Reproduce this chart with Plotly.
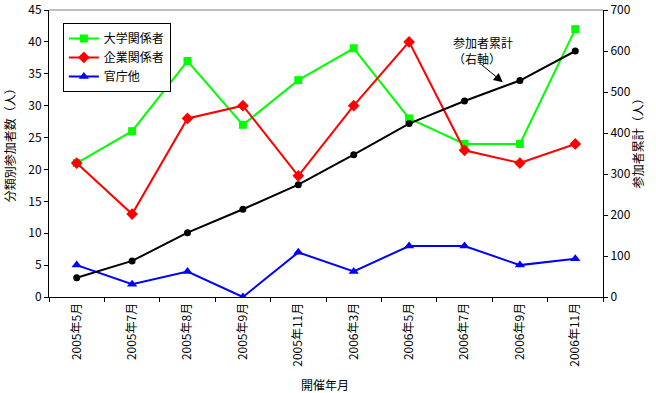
import plotly.graph_objects as go

categories = ["2005年5月", "2005年7月", "2005年8月", "2005年9月", "2005年11月",
              "2006年3月", "2006年5月", "2006年7月", "2006年9月", "2006年11月"]
univ = [21, 26, 37, 27, 34, 39, 28, 24, 24, 42]
corp = [21, 13, 28, 30, 19, 30, 40, 23, 21, 24]
gov = [5, 2, 4, 0, 7, 4, 8, 8, 5, 6]
cumulative = [47, 88, 157, 214, 274, 347, 423, 478, 528, 600]

FONT = "Noto Sans CJK JP"

fig = go.Figure()
fig.add_trace(go.Scatter(x=categories, y=univ, name="大学関係者", mode="lines+markers",
                         line=dict(color="#00ff00", width=2),
                         marker=dict(symbol="square", size=8, color="#00ff00")))
fig.add_trace(go.Scatter(x=categories, y=corp, name="企業関係者", mode="lines+markers",
                         line=dict(color="#ff0000", width=2),
                         marker=dict(symbol="diamond", size=9, color="#ff0000")))
fig.add_trace(go.Scatter(x=categories, y=gov, name="官庁他", mode="lines+markers",
                         line=dict(color="#0000ff", width=2),
                         marker=dict(symbol="triangle-up", size=9, color="#0000ff")))
fig.add_trace(go.Scatter(x=categories, y=cumulative, name="参加者累計", mode="lines+markers",
                         yaxis="y2", showlegend=False,
                         line=dict(color="#000000", width=2),
                         marker=dict(symbol="circle", size=7, color="#000000")))

fig.update_layout(
    width=656, height=393,
    margin=dict(l=49, r=53, t=10, b=96, autoexpand=False),
    paper_bgcolor="white", plot_bgcolor="white",
    font=dict(family=FONT, size=12, color="black"),
    showlegend=True,
    legend=dict(x=0.025, y=0.955, xanchor="left", yanchor="top",
                bordercolor="black", borderwidth=1, bgcolor="white",
                font=dict(size=12), tracegroupgap=0, itemwidth=30),
    xaxis=dict(type="category", range=[-0.5, 9.5], tickangle=-90, automargin=False,
               showline=True, linecolor="black", linewidth=1,
               ticks="outside", tickson="boundaries", ticklen=4, tickcolor="black",
               showgrid=False, tickfont=dict(size=12)),
    yaxis=dict(range=[0, 45], dtick=5, showline=True, linecolor="black", linewidth=1,
               ticks="outside", ticklen=4, tickcolor="black", showgrid=False,
               zeroline=False, tickfont=dict(size=12), automargin=False,
               ticklabeloverflow="allow"),
    yaxis2=dict(range=[0, 700], dtick=100, overlaying="y", side="right",
                showline=True, linecolor="black", linewidth=1, automargin=False,
                ticks="outside", ticklen=4, tickcolor="black", showgrid=False,
                zeroline=False, tickfont=dict(size=12), ticklabeloverflow="allow"),
)

# gray top border of plot area
fig.add_shape(type="line", xref="paper", yref="paper", x0=0, x1=1, y0=1, y1=1,
              line=dict(color="#808080", width=1))

# axis titles
fig.add_annotation(xref="paper", yref="paper", x=-0.072, y=0.54, textangle=-90,
                   xanchor="center", yanchor="middle", showarrow=False,
                   text="分類別参加者数（人）", font=dict(size=12))
fig.add_annotation(xref="paper", yref="paper", x=1.062, y=0.547, textangle=-90,
                   xanchor="center", yanchor="middle", showarrow=False,
                   text="参加者累計（人）", font=dict(size=12))
fig.add_annotation(xref="paper", yref="paper", x=0.498, y=-0.305,
                   xanchor="center", yanchor="middle", showarrow=False,
                   text="開催年月", font=dict(size=12))

fig.add_annotation(xref="paper", yref="paper", x=0.726, y=0.925,
                   xanchor="left", yanchor="top", align="left", showarrow=False,
                   text="参加者累計<br>（右軸）", font=dict(size=12))
fig.add_annotation(x=7.69, y=524, xref="x", yref="y2", text="",
                   showarrow=True, arrowhead=2, arrowsize=1.8, arrowwidth=1,
                   arrowcolor="black", ax=-23, ay=-19)

fig.write_html("out.html", config={"displayModeBar": False},
               post_script="document.body.style.margin='0';")
